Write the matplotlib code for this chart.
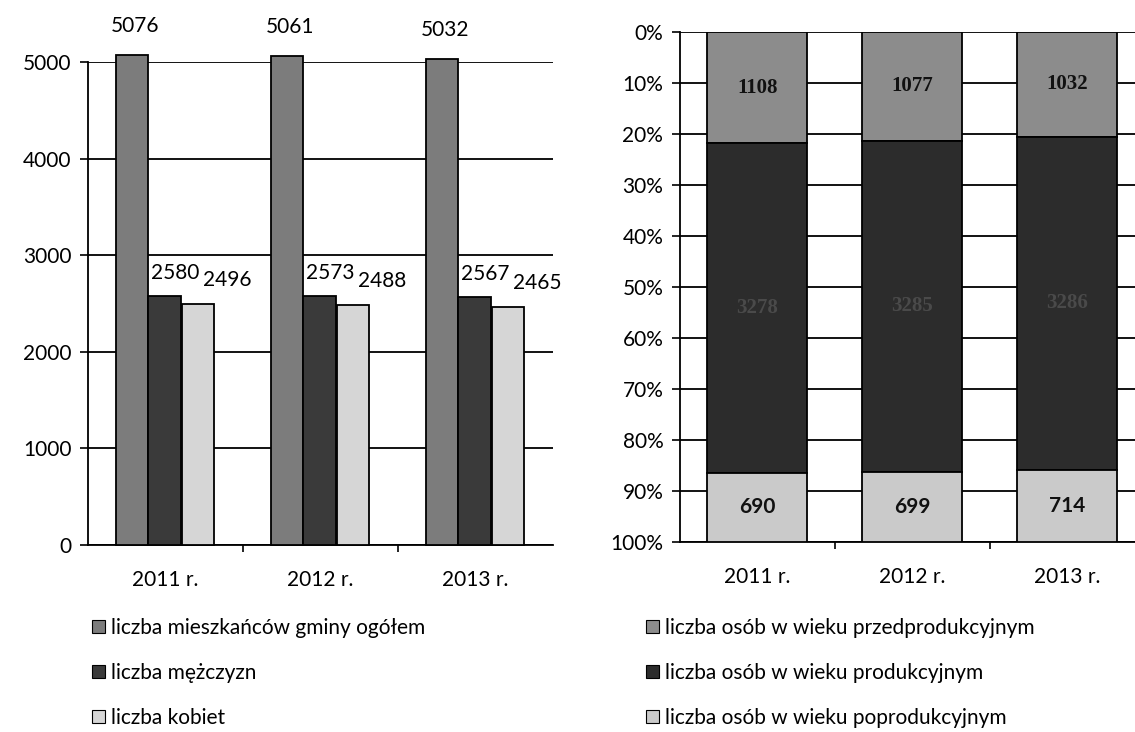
import matplotlib
matplotlib.use("Agg")
import matplotlib.pyplot as plt
import numpy as np
from matplotlib.patches import Patch

plt.rcParams['font.family'] = ['Lato', 'DejaVu Sans']

years = ["2011 r.", "2012 r.", "2013 r."]
total = [5076, 5061, 5032]
men = [2580, 2573, 2567]
women = [2496, 2488, 2465]

pre_prod = [1108, 1077, 1032]
prod = [3278, 3285, 3286]
post_prod = [690, 699, 714]

left_labels = ["liczba mieszkańców gminy ogółem", "liczba mężczyzn", "liczba kobiet"]
right_labels = ["liczba osób w wieku przedprodukcyjnym",
                "liczba osób w wieku produkcyjnym",
                "liczba osób w wieku poprodukcyjnym"]

c_total, c_men, c_women = "#7c7c7c", "#3a3a3a", "#d6d6d6"
c_pre, c_prod, c_post = "#8c8c8c", "#2c2c2c", "#cacaca"

W, H = 1135, 732
fig = plt.figure(figsize=(W / 100, H / 100), dpi=100)

# ---------- left chart ----------
axL = fig.add_axes([88 / W, (H - 545) / H, (553 - 88) / W, (545 - 62) / H])
x = np.arange(len(years))
bw = 0.21
offs = [-0.215, -0.005, 0.21]
series = [(total, c_total), (men, c_men), (women, c_women)]
for (vals, col), off in zip(series, offs):
    axL.bar(x + off, vals, width=bw, color=col, edgecolor="black",
            linewidth=1.3, clip_on=False, zorder=3)

lab_dx = [0.02, 0.07, 0.19]
lab_dy = [29, 23, 24]
for (vals, col), off, dx, dy in zip(series, offs, lab_dx, lab_dy):
    for xi, v in zip(x, vals):
        axL.annotate(str(v), (xi + off + dx, v), xytext=(0, dy),
                     textcoords="offset pixels", ha="center", va="center",
                     fontsize=15, color="black", annotation_clip=False, zorder=5)

axL.set_xlim(-0.5, 2.5)
axL.set_ylim(0, 5000)
axL.set_yticks(np.arange(0, 5001, 1000))
axL.yaxis.grid(True, color="black", linewidth=1.3, zorder=0)
axL.set_axisbelow(True)
axL.set_xticks(x)
axL.set_xticklabels(years)
axL.set_xticks([0.5, 1.5], minor=True)
axL.tick_params(axis="x", which="major", length=0, pad=18, labelsize=15)
axL.tick_params(axis="x", which="minor", length=5, width=1.2, direction="out")
axL.tick_params(axis="y", length=6, width=1.2, labelsize=15, pad=6)
for s in ["top", "right"]:
    axL.spines[s].set_visible(False)
axL.spines["left"].set_linewidth(1.3)
axL.spines["bottom"].set_linewidth(1.3)

# ---------- right chart ----------
axR = fig.add_axes([680 / W, (H - 542) / H, (1135 - 680) / W, (542 - 32) / H])
tot = np.array(pre_prod) + np.array(prod) + np.array(post_prod)
p1 = np.array(pre_prod) / tot
p2 = np.array(prod) / tot
p3 = np.array(post_prod) / tot
rw = 0.645
axR.bar(x, p1, bottom=0, width=rw, color=c_pre, edgecolor="black", linewidth=1.3, zorder=3)
axR.bar(x, p2, bottom=p1, width=rw, color=c_prod, edgecolor="black", linewidth=1.3, zorder=3)
axR.bar(x, p3, bottom=p1 + p2, width=rw, color=c_post, edgecolor="black", linewidth=1.3, zorder=3)

for i in range(len(years)):
    axR.text(x[i], p1[i] / 2, str(pre_prod[i]), ha="center", va="center",
             fontsize=15, fontweight="bold", family=["Liberation Serif"],
             color="#111111", zorder=5)
    axR.text(x[i], p1[i] + p2[i] / 2, str(prod[i]), ha="center", va="center",
             fontsize=15, fontweight="bold", family=["Liberation Serif"],
             color="#4a4a4a", zorder=5)
    axR.text(x[i], p1[i] + p2[i] + p3[i] / 2, str(post_prod[i]), ha="center",
             va="center", fontsize=15, fontweight="bold", color="#111111", zorder=5)

axR.set_xlim(-0.5, 2.44)
axR.set_ylim(1, 0)
axR.set_yticks(np.arange(0, 1.01, 0.1))
axR.set_yticklabels([f"{int(round(t * 100))}%" for t in np.arange(0, 1.01, 0.1)])
axR.yaxis.grid(True, color="black", linewidth=1.3, zorder=0)
axR.set_axisbelow(True)
axR.set_xticks(x)
axR.set_xticklabels(years)
axR.set_xticks([0.5, 1.5], minor=True)
axR.tick_params(axis="x", which="major", length=0, pad=18, labelsize=15)
axR.tick_params(axis="x", which="minor", length=5, width=1.2, direction="out")
axR.tick_params(axis="y", length=6, width=1.2, labelsize=15, pad=6)
for s in ["top", "right"]:
    axR.spines[s].set_visible(False)
axR.spines["left"].set_linewidth(1.3)
axR.spines["bottom"].set_linewidth(1.3)

# ---------- legends ----------
def make_legend(labels, colors, x0):
    handles = [Patch(facecolor=c, edgecolor="black", linewidth=0.8) for c in colors]
    leg = fig.legend(handles, labels, loc="upper left",
                     bbox_to_anchor=(x0 / W, (H - 618) / H),
                     frameon=False, fontsize=15, handlelength=0.6, handleheight=0.6,
                     handletextpad=0.3, labelspacing=1.2, borderaxespad=0,
                     borderpad=0)
    return leg

make_legend(left_labels, [c_total, c_men, c_women], 92)
make_legend(right_labels, [c_pre, c_prod, c_post], 646)

fig.savefig("out.png", dpi=100)
